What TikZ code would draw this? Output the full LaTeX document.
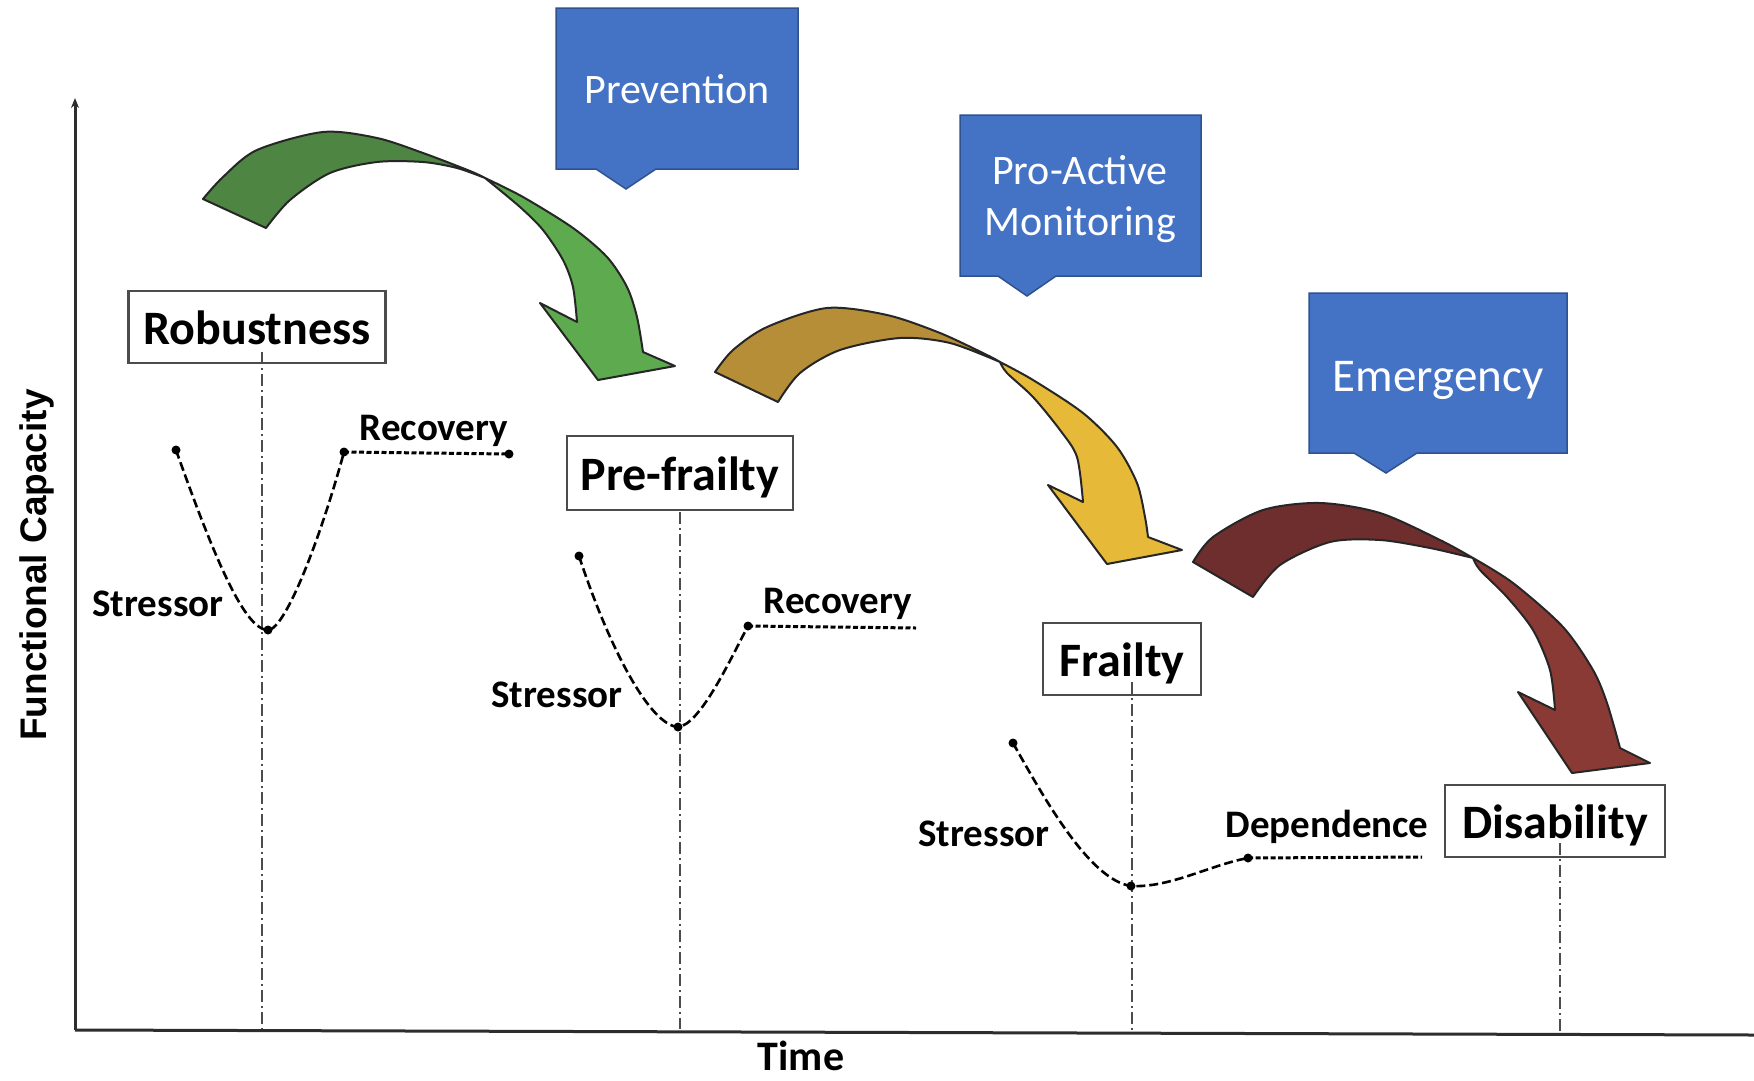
\documentclass[tikz,border=0pt]{standalone}
\usepackage{fontspec}
\setmainfont{Carlito}
\newfontfamily\arialfont{Liberation Sans}
\usetikzlibrary{arrows.meta,calc}
\definecolor{calloutblue}{RGB}{68,114,196}
\definecolor{calloutedge}{RGB}{47,82,143}
\definecolor{gdark}{RGB}{78,133,66}
\definecolor{glight}{RGB}{94,170,78}
\definecolor{odark}{RGB}{182,142,56}
\definecolor{olight}{RGB}{230,186,56}
\definecolor{bdark}{RGB}{110,46,46}
\definecolor{blight}{RGB}{138,58,52}
\definecolor{axisgray}{RGB}{45,45,45}
\begin{document}
\begin{tikzpicture}[x=1pt,y=-1pt,
  stage/.style={draw=black!70, line width=2.2pt, fill=white, inner sep=0pt,
    font=\fontsize{48}{56}\selectfont\bfseries, text height=37pt, text depth=3pt},
  lbl/.style={font=\fontsize{39}{46}\selectfont\bfseries, inner sep=0pt, anchor=base},
  callout/.style={fill=calloutblue, draw=calloutedge, line width=1.5pt},
  calltext/.style={text=white, align=center, inner sep=0pt},
  stresscurve/.style={line width=2.6pt, dash pattern=on 9pt off 4pt},
  flatline/.style={line width=3pt, dash pattern=on 5pt off 2.5pt},
  guide/.style={line width=1.6pt, draw=black!70, dash pattern=on 12pt off 4pt on 2pt off 4pt},
  dot/.style={circle, fill=black, inner sep=0pt, minimum size=9pt},
  ribbon/.style={draw=black!85, line width=2pt, line join=round},
  axisline/.style={draw=axisgray, line width=3pt}
]
\useasboundingbox (0,0) rectangle (1754,1080);
\fill[white] (0,0) rectangle (1754,1080);

% ---------- axes ----------
\coordinate (origin) at (75,1030);
\coordinate (ytop) at (75,98);
\coordinate (xend) at (1754,1035);
\draw[axisline, -{Stealth[length=10pt,width=8pt]}] (origin) -- (ytop);
\draw[axisline] (origin) -- (xend);
\node[font=\fontsize{42}{48}\selectfont\bfseries, inner sep=0pt, anchor=base] (time) at (801,1070) {Time};
\node[font=\arialfont\fontsize{37}{42}\selectfont\bfseries, rotate=90, inner sep=0pt] (fc) at (37,565) {Functional Capacity};

% ---------- callouts ----------
\draw[callout] (556,8) -- (798,8) -- (798,169) -- (656,169) -- (626,189) -- (596,169) -- (556,169) -- cycle;
\node[calltext, font=\fontsize{42}{50}\selectfont] (prev) at (677,89) {Prevention};
\draw[callout] (960,115) -- (1201,115) -- (1201,276) -- (1056,276) -- (1027,296) -- (998,276) -- (960,276) -- cycle;
\node[calltext, font=\fontsize{42}{51}\selectfont] (proact) at (1080,199) {Pro-Active\\Monitoring};
\draw[callout] (1309,293) -- (1567,293) -- (1567,453) -- (1417,453) -- (1386,473) -- (1354,453) -- (1309,453) -- cycle;
\node[calltext, font=\fontsize{47}{54}\selectfont] (emerg) at (1438,380) {Emergency};

% ---------- curved arrows ----------
% green
\filldraw[ribbon, fill=gdark] (203,199) -- plot[smooth] coordinates {(203,199) (223,177) (257,150) (323,132) (377,138) (423,153) (470,171) (485,178)}
  -- plot[smooth] coordinates {(485,178) (457,168) (423,162) (377,162) (330,173) (290,200) (266,228)} -- cycle;
\filldraw[ribbon, fill=glight] (485,178) -- plot[smooth] coordinates {(485,178) (523,197) (573,228) (607,257) (627,287) (637,317) (643,352)}
  -- (675,366) -- (598,380) -- (540,303) -- (577,322)
  -- plot[smooth] coordinates {(577,322) (573,287) (563,260) (543,230) (520,207) (485,178)} -- cycle;
% gold
\filldraw[ribbon, fill=odark] (715,372) -- plot[smooth] coordinates {(715,372) (733,350) (767,327) (827,308) (887,315) (940,333) (987,355) (1000,362)}
  -- plot[smooth] coordinates {(1000,362) (950,343) (900,338) (840,350) (800,373) (778,402)} -- cycle;
\filldraw[ribbon, fill=olight] (1000,362) -- plot[smooth] coordinates {(1000,362) (1033,380) (1083,413) (1117,447) (1137,483) (1145,517) (1148,537)}
  -- (1182,550) -- (1107,564) -- (1048,485) -- (1083,502)
  -- plot[smooth] coordinates {(1083,502) (1077,457) (1060,430) (1033,397) (1007,373) (1000,362)} -- cycle;
% brown
\filldraw[ribbon, fill=bdark] (1193,562) -- plot[smooth] coordinates {(1193,562) (1213,537) (1263,510) (1320,503) (1380,513) (1440,540) (1473,558)}
  -- plot[smooth] coordinates {(1473,558) (1430,548) (1380,540) (1330,542) (1280,565) (1253,597)} -- cycle;
\filldraw[ribbon, fill=blight] (1473,558) -- plot[smooth] coordinates {(1473,558) (1513,583) (1563,627) (1593,670) (1607,703) (1620,748)}
  -- (1650,763) -- (1572,773) -- (1518,692) -- (1555,710)
  -- plot[smooth] coordinates {(1555,710) (1550,670) (1533,630) (1507,597) (1480,570) (1473,558)} -- cycle;

% ---------- stage boxes ----------
\node[stage, minimum width=257pt, minimum height=72pt] (rob) at (257,327) {Robustness};
\node[stage, minimum width=226pt, minimum height=74pt] (pre) at (680,473) {Pre-frailty};
\node[stage, minimum width=158pt, minimum height=72pt] (fra) at (1122,659) {Frailty};
\node[stage, minimum width=220pt, minimum height=72pt] (dis) at (1555,821) {Disability};

% ---------- guides (drawn over the boxes' lower part) ----------
\coordinate (g1a) at (262,352); \coordinate (g1b) at (262,1029);
\coordinate (g2a) at (680,512); \coordinate (g2b) at (680,1029);
\coordinate (g3a) at (1132,682); \coordinate (g3b) at (1132,1031);
\coordinate (g4a) at (1560,843); \coordinate (g4b) at (1560,1033);
\draw[guide] (g1a) -- (g1b);
\draw[guide] (g2a) -- (g2b);
\draw[guide] (g3a) -- (g3b);
\draw[guide] (g4a) -- (g4b);

% ---------- stress curves ----------
\node[dot] (s1) at (176,450) {};
\node[dot] (m1) at (268,630) {};
\node[dot] (r1) at (344,452) {};
\node[dot] (e1) at (509,454) {};
\draw[stresscurve] (s1.center) .. controls (215,560) and (245,630) .. (m1.center)
  .. controls (285,630) and (320,540) .. (r1.center);
\draw[flatline] (r1.center) -- (e1.center);

\node[dot] (s2) at (579,556) {};
\node[dot] (m2) at (678,727) {};
\node[dot] (r2) at (748,626) {};
\coordinate (e2) at (916,628);
\draw[stresscurve] (s2.center) .. controls (610,650) and (650,725) .. (m2.center)
  .. controls (700,725) and (730,660) .. (r2.center);
\draw[flatline] (r2.center) -- (e2);

\node[dot] (s3) at (1013,743) {};
\node[dot] (m3) at (1131,886) {};
\node[dot] (d3) at (1248,858) {};
\coordinate (e3) at (1422,857);
\draw[stresscurve] (s3.center) .. controls (1045,800) and (1090,880) .. (m3.center)
  .. controls (1170,888) and (1210,865) .. (d3.center);
\draw[flatline] (d3.center) -- (e3);

% ---------- labels ----------
\node[lbl] (st1) at (158,616) {Stressor};
\node[lbl] (rc1) at (434,440) {Recovery};
\node[lbl] (st2) at (557,707) {Stressor};
\node[lbl] (rc2) at (838,613) {Recovery};
\node[lbl] (st3) at (984,846) {Stressor};
\node[lbl] (dep) at (1327,837) {Dependence};
\end{tikzpicture}
\end{document}
